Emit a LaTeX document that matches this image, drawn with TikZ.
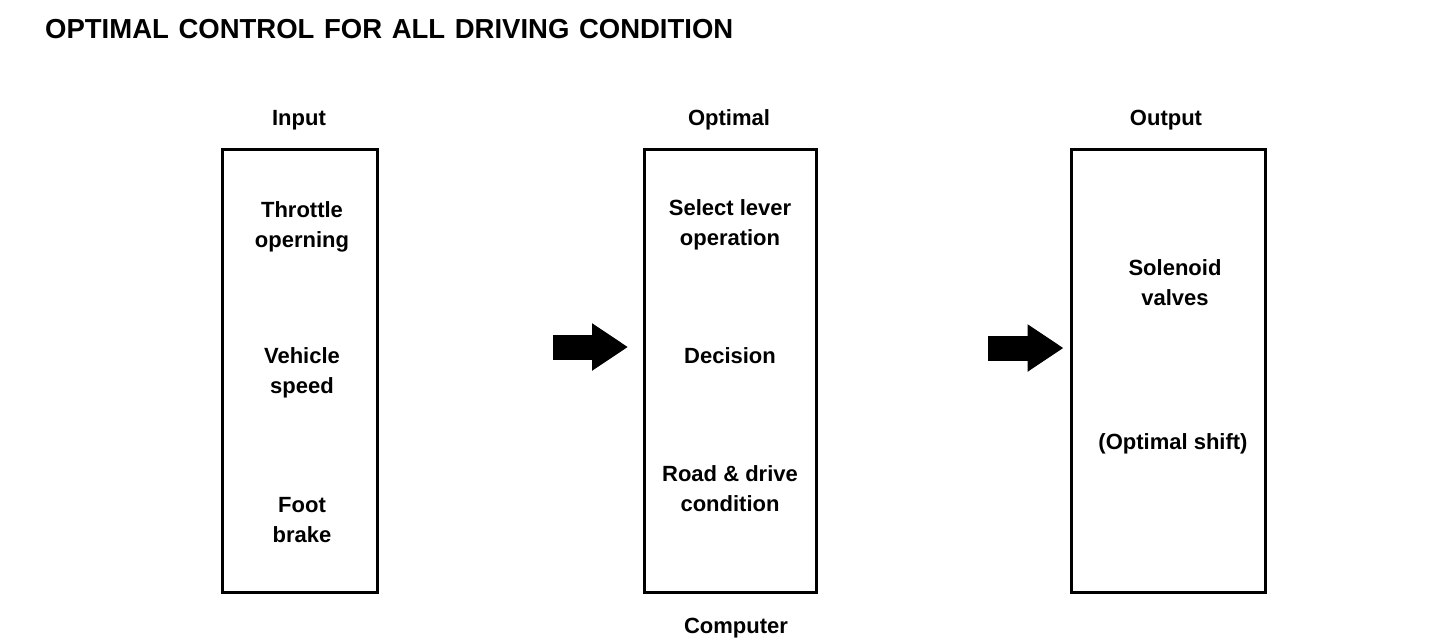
\documentclass[tikz,border=0pt]{standalone}
\usepackage{fontspec}
\setmainfont{Liberation Sans}
\usetikzlibrary{arrows.meta, positioning, calc}

\begin{document}
\begin{tikzpicture}[
  x=1pt, y=-1pt,
  font=\bfseries\fontsize{22}{30}\selectfont,
  block/.style={draw=black, line width=3pt, minimum width=#1,
                minimum height=443pt, inner sep=0pt},
  item/.style={align=center, inner sep=0pt},
  fat/.style={line width=25pt, -{Triangle[length=36pt, width=45pt]}}
]
  \useasboundingbox (0,0) rectangle (1456,640);

  \node[anchor=base west, inner sep=0pt,
        font=\bfseries\fontsize{27.5}{30}\selectfont] (title) at (45,38)
    {\spaceskip=9.6pt OPTIMAL CONTROL FOR ALL DRIVING CONDITION};

  % three blocks
  \node[block=155pt] (inp)  at (299.5,370.5) {};
  \node[block=172pt] (opt)  at (730.5,370.5) {};
  \node[block=194pt] (outp) at (1168,370.5) {};

  \node[item] (inplbl)  at (299,120) {Input};
  \node[item] (optlbl)  at (729,120) {Optimal};
  \node[item] (outplbl) at (1166,120) {Output};
  \node[item] (comp)    at (736,628) {Computer};

  % input signals
  \node[item] (thr) at (302,227) {Throttle\\operning};
  \node[item] (vsp) at (302,373) {Vehicle\\speed};
  \node[item] (fbr) at (302,520) {Foot\\brake};

  % computer
  \node[item] (sel) at (730,225) {Select lever\\operation};
  \node[item] (dec) at (730,356) {Decision};
  \node[item] (road) at (730,489) {Road \& drive\\condition};

  % output
  \node[item] (sol) at (1175,283) {Solenoid\\valves};
  \node[item] (shift) at (1173,444) {(Optimal shift)};

  \coordinate (a1s) at (553,347);
  \coordinate (a1e) at ($(opt.west |- a1s)+(-15,0)$);
  \coordinate (a2s) at (988,348);
  \coordinate (a2e) at ($(outp.west |- a2s)+(-6,0)$);
  \draw[fat] (a1s) -- (a1e);
  \draw[fat] (a2s) -- (a2e);
\end{tikzpicture}
\end{document}
